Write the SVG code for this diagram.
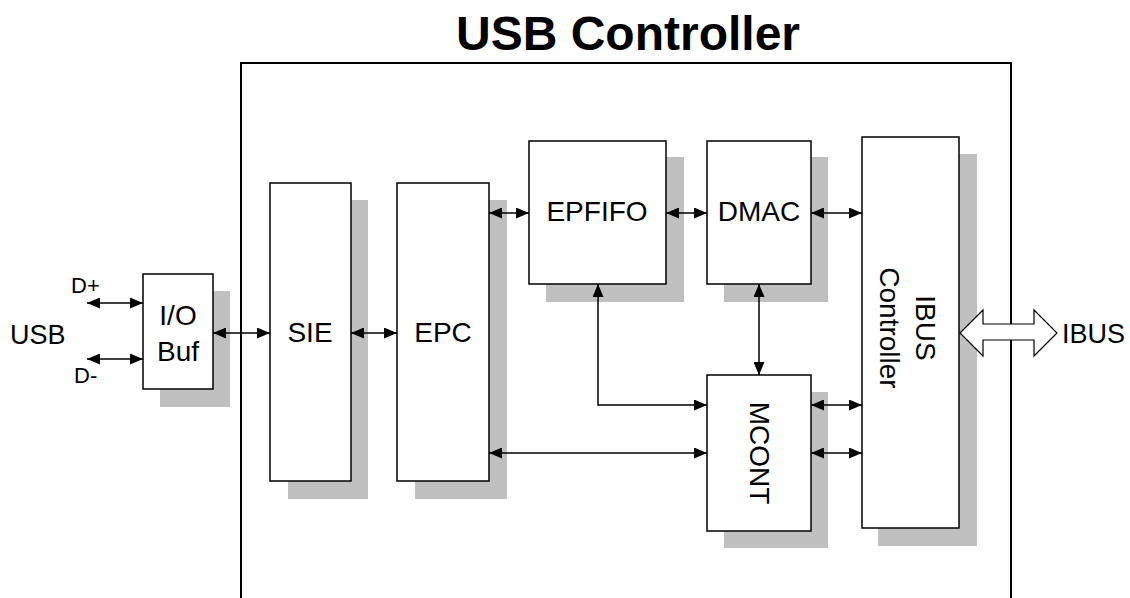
<svg xmlns="http://www.w3.org/2000/svg" width="1130" height="598" viewBox="0 0 1130 598">
<defs>
<marker id="ah" viewBox="0 0 13 11" refX="13" refY="5.5" markerWidth="13" markerHeight="11" markerUnits="userSpaceOnUse" orient="auto-start-reverse">
<path d="M0,0 L13,5.5 L0,11 Z" fill="#000"/>
</marker>
<style>
.sh{fill:#c0c0c0;stroke:none}
.bx{fill:#fff;stroke:#000;stroke-width:1.5}
.t{font-family:"Liberation Sans",Arial,sans-serif;font-size:28px;fill:#000;text-anchor:middle}
.s{font-family:"Liberation Sans",Arial,sans-serif;font-size:22px;fill:#000}
.c{fill:none;stroke:#000;stroke-width:1.5;marker-start:url(#ah);marker-end:url(#ah)}
</style>
</defs>
<rect width="1130" height="598" fill="#fff"/>
<text x="628" y="50" font-family="'Liberation Sans',Arial,sans-serif" font-size="48" font-weight="bold" text-anchor="middle">USB Controller</text>
<g id="outer"><path d="M241,600 V63 H1011 V600" fill="none" stroke="#000" stroke-width="2"/></g>

<g id="usb-labels">
<text class="t" x="10" y="344" style="text-anchor:start;font-size:27px">USB</text>
<text class="s" x="71" y="293">D+</text>
<text class="s" x="74" y="383">D-</text>
</g>

<g id="iobuf">
<rect class="sh" x="160" y="291" width="70" height="116"/>
<rect class="bx" x="143" y="274" width="70" height="115"/>
<text class="t" x="178" y="325">I/O</text>
<text class="t" x="178" y="361">Buf</text>
</g>

<g id="sie">
<rect class="sh" x="288" y="200" width="80" height="299"/>
<rect class="bx" x="270" y="183" width="81" height="298"/>
<text class="t" x="310" y="342">SIE</text>
</g>

<g id="epc">
<rect class="sh" x="415" y="200" width="92" height="299"/>
<rect class="bx" x="397" y="183" width="92" height="298"/>
<text class="t" x="443" y="342">EPC</text>
</g>

<g id="epfifo">
<rect class="sh" x="546" y="157" width="138" height="145"/>
<rect class="bx" x="529" y="141" width="137" height="143"/>
<text class="t" x="597" y="221">EPFIFO</text>
</g>

<g id="dmac">
<rect class="sh" x="724" y="157" width="104" height="145"/>
<rect class="bx" x="707" y="141" width="104" height="143"/>
<text class="t" x="759" y="221">DMAC</text>
</g>

<g id="mcont">
<rect class="sh" x="724" y="392" width="104" height="156"/>
<rect class="bx" x="707" y="375" width="104" height="156"/>
<text class="t" transform="translate(760,453) rotate(90)" y="10">MCONT</text>
</g>

<g id="ibus-controller">
<rect class="sh" x="878" y="154" width="99" height="392"/>
<rect class="bx" x="862" y="137" width="97" height="391"/>
<text class="t" transform="translate(910,328) rotate(90)" y="-6">IBUS</text>
<text class="t" transform="translate(910,328) rotate(90)" y="30">Controller</text>
</g>

<g id="ibus-port">
<path d="M960,333 L983,310 L983,324 L1034,324 L1034,310 L1057,333 L1034,356 L1034,340 L983,340 L983,356 Z" fill="#fff" stroke="#000" stroke-width="1.2"/>
<text class="t" x="1062" y="343" style="text-anchor:start;font-size:27px">IBUS</text>
</g>

<g id="connectors">
<line class="c" x1="87" y1="303" x2="143" y2="303"/>
<line class="c" x1="87" y1="359" x2="143" y2="359"/>
<line class="c" x1="213" y1="333" x2="270" y2="333"/>
<line class="c" x1="351" y1="333" x2="397" y2="333"/>
<line class="c" x1="489" y1="213" x2="529" y2="213"/>
<line class="c" x1="666" y1="213" x2="707" y2="213"/>
<line class="c" x1="811" y1="213" x2="862" y2="213"/>
<path class="c" d="M598,284 V405 H707"/>
<line class="c" x1="759" y1="284" x2="759" y2="375"/>
<line class="c" x1="489" y1="453" x2="707" y2="453"/>
<line class="c" x1="811" y1="405" x2="862" y2="405"/>
<line class="c" x1="811" y1="453" x2="862" y2="453"/>
</g>
</svg>
